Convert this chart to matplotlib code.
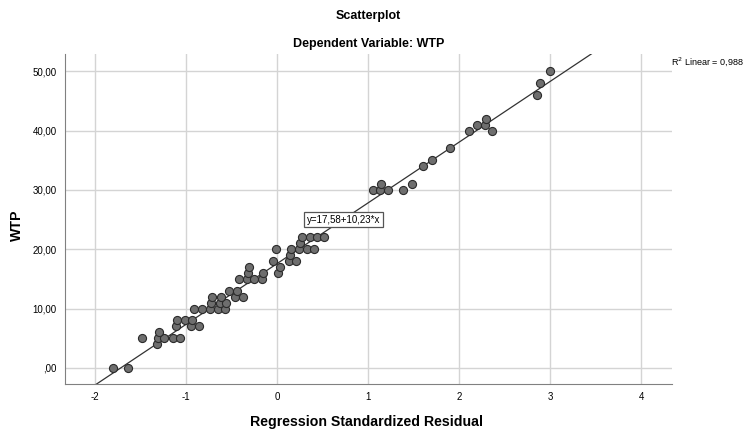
import matplotlib
matplotlib.use("Agg")
import matplotlib.pyplot as plt
import numpy as np

plt.rcParams['font.family'] = ['Liberation Sans', 'DejaVu Sans']
plt.rcParams['axes.unicode_minus'] = False

# standardized residual (x) and WTP (y)
resid = [-1.80, -1.64,
         -1.32,
         -1.48, -1.31, -1.24, -1.14, -1.07,
         -1.30,
         -1.11, -0.95, -0.86,
         -1.10, -1.01, -0.93,
         -0.91, -0.82, -0.74, -0.65, -0.57,
         -0.73, -0.63, -0.56,
         -0.71, -0.62, -0.46, -0.37,
         -0.53, -0.44,
         -0.42, -0.33, -0.25, -0.16,
         -0.32, -0.15, 0.01,
         -0.31, 0.03,
         -0.04, 0.13, 0.21,
         0.14,
         -0.01, 0.15, 0.24, 0.33, 0.41,
         0.25,
         0.27, 0.36, 0.44, 0.52,
         1.05, 1.13, 1.22, 1.38,
         1.14, 1.48,
         1.60, 1.70, 1.90,
         2.11, 2.36, 2.20, 2.29, 2.30,
         2.86, 2.89, 3.00]
wtp = [0, 0,
       4,
       5, 5, 5, 5, 5,
       6,
       7, 7, 7,
       8, 8, 8,
       10, 10, 10, 10, 10,
       11, 11, 11,
       12, 12, 12, 12,
       13, 13,
       15, 15, 15, 15,
       16, 16, 16,
       17, 17,
       18, 18, 18,
       19,
       20, 20, 20, 20, 20,
       21,
       22, 22, 22, 22,
       30, 30, 30, 30,
       31, 31,
       34, 35, 37,
       40, 40, 41, 41, 42,
       46, 48, 50]

intercept = 17.58
slope = 10.23
r2 = 0.988

xticks = [-2, -1, 0, 1, 2, 3, 4]
yticks = [0, 10, 20, 30, 40, 50]
ytick_labels = [',00', '10,00', '20,00', '30,00', '40,00', '50,00']

fig = plt.figure(figsize=(7.46, 4.32), dpi=100)
ax = fig.add_axes([0.0871, 0.1111, 0.8137, 0.7639])

xlim = (-2.33, 4.34)
ylim = (-2.7, 52.9)

xs = np.array(xlim)
ax.plot(xs, intercept + slope * xs, color='#333333', lw=0.9, zorder=2)
ax.scatter(resid, wtp, s=34, facecolor='#6e6e6e', edgecolor='#2b2b2b',
           linewidths=0.8, zorder=3)

ax.set_xlim(xlim)
ax.set_ylim(ylim)
ax.set_xticks(xticks)
ax.set_yticks(yticks)
ax.set_yticklabels(ytick_labels)
ax.tick_params(length=0, labelsize=7, pad=6)
ax.grid(True, color='#d4d4d4', lw=1)
ax.set_axisbelow(True)
for s in ['top', 'right']:
    ax.spines[s].set_visible(False)
for s in ['left', 'bottom']:
    ax.spines[s].set_color('#808080')

ax.set_xlabel('Regression Standardized Residual', fontsize=10.2,
              fontweight='bold', va='center')
ax.xaxis.set_label_coords(0.4975, -0.115)
ax.set_ylabel('WTP', fontsize=10.2, fontweight='bold', va='center')
ax.yaxis.set_label_coords(-0.079, 0.48)

fig.text(0.494, 0.963, 'Scatterplot', ha='center', va='center',
         fontsize=9, fontweight='bold')
fig.text(0.494, 0.898, 'Dependent Variable: WTP', ha='center', va='center',
         fontsize=9, fontweight='bold')

ax.text(0.73, 25.0, 'y=17,58+10,23*x', ha='center', va='center', fontsize=7,
        bbox=dict(boxstyle='square,pad=0.25', fc='white', ec='#555555', lw=0.9),
        zorder=4)
fig.text(0.899, 0.857, 'R$^2$ Linear = ' + f'{r2:.3f}'.replace('.', ','),
         ha='left', va='center', fontsize=6.5)

fig.savefig('out.png', dpi=100)
